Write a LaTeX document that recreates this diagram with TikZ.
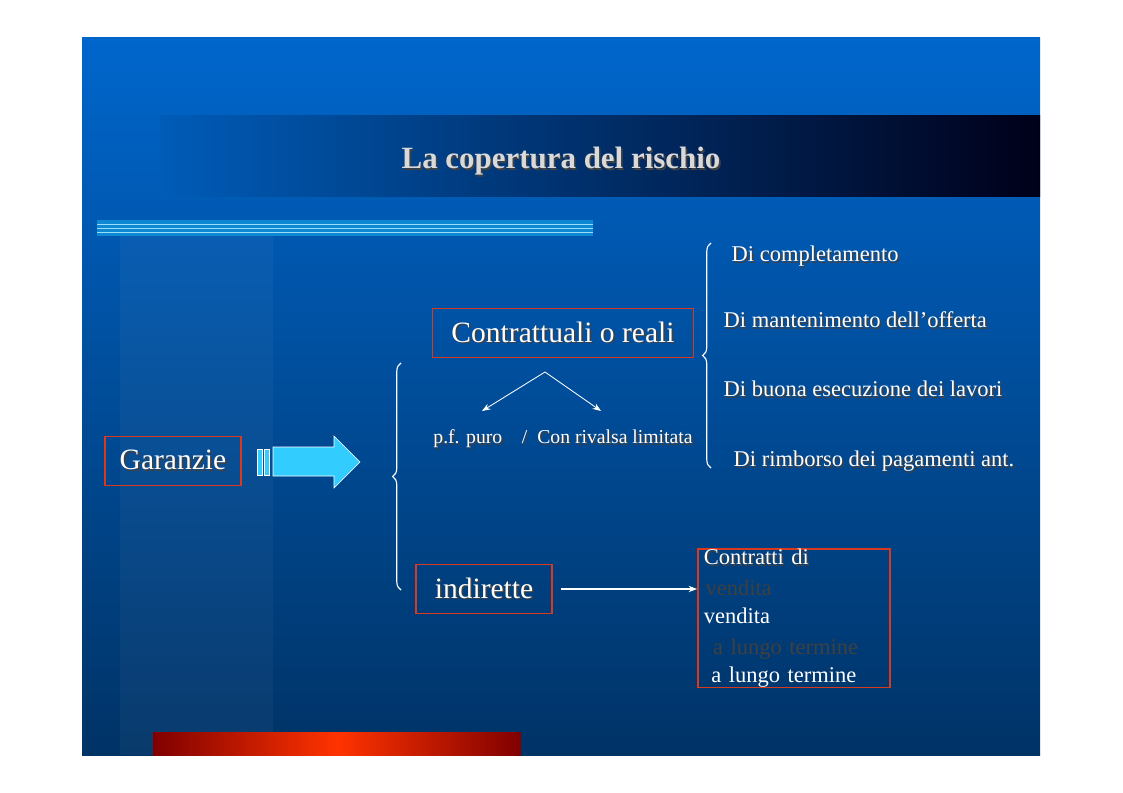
\documentclass[tikz,border=0pt]{standalone}
\usepackage{fontspec}
\setmainfont{Liberation Serif}
\usetikzlibrary{positioning,decorations.pathreplacing,arrows.meta}
\definecolor{slidetop}{HTML}{0066CC}
\definecolor{slidebot}{HTML}{003366}
\definecolor{boxred}{HTML}{D93A1E}
\definecolor{arrcyan}{HTML}{33CCFF}
\newcommand{\sh}[1]{\rlap{\raisebox{-1.2pt}{\kern1.2pt\color{black!75}#1}}#1}
\tikzset{
  redbox/.style={draw=boxred, line width=1.2pt, text=white, inner sep=0pt, minimum height=1.23cm},
  lbl/.style={text=white, inner sep=1pt, anchor=west, font=\fontsize{16}{19}\selectfont},
  conn/.style={white, line width=0.8pt, -{Stealth[length=6pt]}},
  bracew/.style={white, line width=0.8pt, decorate, decoration={brace, amplitude=6pt}}
}
\begin{document}
\begin{tikzpicture}[x=0.025cm, y=-0.025cm]
\useasboundingbox (0,0) rectangle (1123,793);
% Slide background
\shade[top color=slidetop, bottom color=slidebot] (82,38) rectangle (1040,755);
\fill[white, opacity=0.035] (120,230) rectangle (273,755);
\shade[left color=slidetop!90!black, right color=black!90!blue] (160,116) rectangle (1040,197);
\fill[cyan!70!blue] (97,220) rectangle (593,236);
\foreach \yy in {224,228,232} \draw[cyan!40, line width=0.4pt] (97,\yy) -- (593,\yy);
\shade[left color=red!50!black, right color=red!50!black, middle color=red!80!yellow] (153,732) rectangle (521,755);
\node[text=black!15] (title) at (561,162) {\fontsize{22}{26}\selectfont\bfseries\sh{La copertura del rischio}};

% Main boxes
\node[redbox, minimum width=3.4cm] (gar) at (173,461) {\fontsize{21}{24}\selectfont\sh{Garanzie}};
\node[redbox, minimum width=6.52cm] (contr) at (563,333) {\fontsize{21}{24}\selectfont\sh{Contrattuali o reali}};
\node[redbox, minimum width=3.4cm] (indir) at (484,589) {\fontsize{21}{24}\selectfont\sh{indirette}};
\node[redbox, align=left, anchor=north west, minimum width=4.8cm, minimum height=2.42cm,
  inner xsep=4pt, text width=4.5cm, font=\fontsize{16}{21}\selectfont] (vend) at (697,548)
  {\sh{Contratti di}\\\sh{vendita}\\\sh{\ a lungo termine}};

% Big arrow
\fill[arrcyan, draw=white] (257,449) rectangle (262,475);
\fill[arrcyan, draw=white] (264,449) rectangle (269,475);
\filldraw[fill=arrcyan, draw=white] (273,447) -- (334,447) -- (334,436) -- (360,462)
  -- (334,488) -- (334,476) -- (273,476) -- cycle;

% Braces
\draw[bracew] (401,590) -- (401,363);
\draw[bracew] (711,468) -- (711,243);

% Split
\coordinate (top) at (545,372);
\coordinate (lt) at (482,411);
\coordinate (rt) at (601,411);
\draw[conn, line width=0.6pt] (top) -- (lt);
\draw[conn, line width=0.6pt] (top) -- (rt);
\node[text=white] (pf) at (563,440) {\fontsize{14}{16}\selectfont\sh{p.f. puro\quad/\ \ Con rivalsa limitata}};

% Right list
\node[lbl] (d1) at (730,257) {\sh{Di completamento}};
\node[lbl] (d2) at (722,321) {\sh{Di mantenimento dell’offerta}};
\node[lbl] (d3) at (722,390) {\sh{Di buona esecuzione dei lavori}};
\node[lbl] (d4) at (732,462) {\sh{Di rimborso dei pagamenti ant.}};

% Indirette arrow
\draw[conn] (indir.east) ++(8,0) -- (vend.west |- indir.east);
\end{tikzpicture}
\end{document}
